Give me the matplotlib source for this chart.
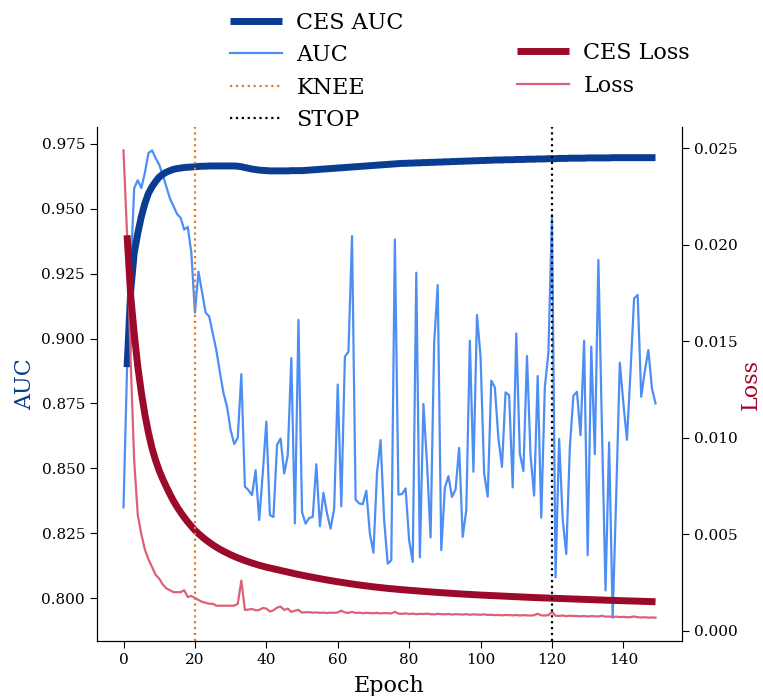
import numpy as np
import matplotlib
matplotlib.use("Agg")
import matplotlib.pyplot as plt

plt.rcParams['font.family'] = ['DejaVu Serif']

epochs = list(range(150))

auc = [0.835, 0.889, 0.926, 0.958, 0.961, 0.958, 0.964, 0.9715, 0.9725, 0.9695,
       0.967, 0.963, 0.9585, 0.954, 0.951, 0.948, 0.9465, 0.942, 0.943, 0.933,
       0.910, 0.9258, 0.918, 0.910, 0.9085, 0.902, 0.8955, 0.887, 0.879, 0.8737,
       0.8648, 0.8594, 0.8618, 0.8863, 0.843, 0.8416, 0.8397, 0.8493, 0.8301, 0.848,
       0.868, 0.832, 0.8313, 0.859, 0.8615, 0.848, 0.855, 0.8925, 0.8288, 0.9072,
       0.8331, 0.8287, 0.8309, 0.8313, 0.8516, 0.8277, 0.8406, 0.8326, 0.8268, 0.8345,
       0.8823, 0.8354, 0.893, 0.8949, 0.9395, 0.838, 0.8365, 0.8362, 0.8414, 0.8249,
       0.8175, 0.8483, 0.8609, 0.830, 0.8133, 0.8146, 0.9382, 0.8399, 0.8401, 0.8423,
       0.8223, 0.814, 0.9254, 0.8157, 0.8748, 0.852, 0.8234, 0.8982, 0.9206, 0.8185,
       0.8425, 0.847, 0.839, 0.8419, 0.8579, 0.8236, 0.8339, 0.8992, 0.8487, 0.9091,
       0.893, 0.8481, 0.8391, 0.8838, 0.8812, 0.8615, 0.8506, 0.8793, 0.8782, 0.8427,
       0.902, 0.8557, 0.849, 0.8933, 0.855, 0.8395, 0.8856, 0.831, 0.8813, 0.8945,
       0.9476, 0.808, 0.8614, 0.8304, 0.817, 0.858, 0.878, 0.8795, 0.8628, 0.8992,
       0.8166, 0.8969, 0.8555, 0.9303, 0.865, 0.803, 0.860, 0.7925, 0.840, 0.8907,
       0.875, 0.861, 0.8875, 0.9155, 0.9168, 0.8776, 0.8875, 0.8956, 0.8808, 0.875]

ces_epochs = list(range(1, 150))
ces_auc = [0.889, 0.918, 0.933, 0.9406, 0.947, 0.9521, 0.956, 0.9585, 0.9605, 0.9622,
           0.9633, 0.9641, 0.9647, 0.9652, 0.9655, 0.9657, 0.9659, 0.966, 0.9661, 0.9662,
           0.9663, 0.9664, 0.9664, 0.9665, 0.9665, 0.9665, 0.9665, 0.9665, 0.9665, 0.9665,
           0.9665, 0.9664,
           0.9662, 0.9659, 0.9656, 0.9653, 0.9651, 0.9649, 0.9648, 0.9647, 0.9646, 0.9646,
           0.9646, 0.9646, 0.9646, 0.9646, 0.9647, 0.9647, 0.9647, 0.9647, 0.9648,
           0.9649, 0.965, 0.9651, 0.9652, 0.9653, 0.9654, 0.9655, 0.9656, 0.9657, 0.9658,
           0.9659, 0.966, 0.9661,
           0.9662, 0.9663, 0.9664, 0.9665, 0.9666, 0.9667, 0.9668, 0.9669, 0.967, 0.9671,
           0.9672, 0.9673, 0.9674,
           0.9675, 0.9675, 0.9676, 0.9676, 0.9677, 0.9677, 0.9678, 0.9678, 0.9679, 0.9679,
           0.968, 0.968, 0.9681, 0.9681, 0.9682, 0.9682, 0.9683, 0.9683, 0.9684, 0.9684,
           0.9685, 0.9685, 0.9686, 0.9686, 0.9687,
           0.9687, 0.9688, 0.9688, 0.9688, 0.9689, 0.9689, 0.9689, 0.969, 0.969, 0.969,
           0.9691, 0.9691, 0.9691, 0.9692, 0.9692, 0.9692, 0.9693, 0.9693, 0.9693, 0.9694,
           0.9694, 0.9694, 0.9695, 0.9695, 0.9695,
           0.9695, 0.9695, 0.9696, 0.9696, 0.9696, 0.9696, 0.9696, 0.9696, 0.9696, 0.9697,
           0.9697, 0.9697, 0.9697, 0.9697, 0.9697, 0.9697, 0.9697, 0.9697, 0.9697, 0.9697,
           0.9697, 0.9697]

loss = [0.0249, 0.0205, 0.0140, 0.0088, 0.0060, 0.0050, 0.0042, 0.0037, 0.0033, 0.0029,
        0.0027, 0.0024, 0.0022, 0.0021, 0.0020, 0.0020, 0.0020, 0.0021, 0.00175, 0.0018,
        0.0017, 0.0016, 0.0015, 0.00145, 0.0014, 0.0014, 0.0013, 0.0013, 0.0013, 0.0013,
        0.0013, 0.0013, 0.0014, 0.0026,
        0.00108, 0.00110, 0.00113, 0.00106, 0.00108, 0.00118, 0.00115, 0.00100, 0.00106, 0.00120,
        0.00125, 0.00108, 0.00115, 0.00098, 0.00104, 0.00108, 0.00094, 0.00096,
        0.00096, 0.00094, 0.00095, 0.00093, 0.00094, 0.00092, 0.00094, 0.00093, 0.00095, 0.00104,
        0.00095, 0.00093, 0.00098, 0.00092, 0.00094, 0.00091, 0.00093, 0.00092, 0.00091, 0.00093,
        0.00090, 0.00092, 0.00091, 0.00090, 0.00098, 0.00089,
        0.00088, 0.00090, 0.00087, 0.00089, 0.00086, 0.00088, 0.00087, 0.00089, 0.00086, 0.00085,
        0.00088, 0.00086, 0.00085, 0.00087, 0.00084, 0.00086, 0.00085, 0.00084, 0.00086, 0.00083,
        0.00085, 0.00084, 0.00083, 0.00085, 0.00082,
        0.00083, 0.00081, 0.00082, 0.00080, 0.00082, 0.00081, 0.00080, 0.00082, 0.00079, 0.00081,
        0.00080, 0.00079, 0.00081, 0.00088, 0.00080, 0.00079, 0.00081, 0.00098, 0.00078, 0.00077,
        0.00079, 0.00076, 0.00078, 0.00077,
        0.00076, 0.00075, 0.00077, 0.00074, 0.00076, 0.00075, 0.00074, 0.00078, 0.00073, 0.00074,
        0.00072, 0.00073, 0.00071, 0.00072, 0.00070, 0.00071, 0.00074, 0.00070, 0.00069, 0.00070,
        0.00068, 0.00069, 0.00068]

ces_loss = [0.02050, 0.01740, 0.01540, 0.01370, 0.01235, 0.01120, 0.01025, 0.00945, 0.00883, 0.00830,
            0.00786, 0.00746, 0.00708, 0.00673, 0.00642, 0.00614, 0.00588, 0.00564, 0.00542, 0.00521,
            0.005035, 0.004873, 0.004723, 0.004584, 0.004455, 0.004336, 0.004226, 0.004124, 0.004029, 0.003940,
            0.003857, 0.003779, 0.003706, 0.003637, 0.003572, 0.003511, 0.003453, 0.003398, 0.003346, 0.003297,
            0.003254, 0.003210, 0.003166, 0.003122, 0.003080, 0.003038, 0.002998, 0.002958, 0.002918, 0.002880,
            0.002842, 0.002806, 0.002770, 0.002734, 0.002700, 0.002666, 0.002633, 0.002601, 0.002570, 0.002539,
            0.002510, 0.002481, 0.002452, 0.002425, 0.002398, 0.002373, 0.002348, 0.002324, 0.002301, 0.002278,
            0.002257, 0.002236, 0.002216, 0.002197, 0.002179, 0.002162, 0.002146, 0.002130, 0.002114, 0.002099,
            0.002084, 0.002069, 0.002055, 0.002040, 0.002027, 0.002013, 0.002000, 0.001987, 0.001974, 0.001961,
            0.001949, 0.001937, 0.001926, 0.001914, 0.001903, 0.001892, 0.001882, 0.001872, 0.001862, 0.001852,
            0.001843, 0.001834, 0.001824, 0.001815, 0.001806, 0.001797, 0.001789, 0.001780, 0.001771, 0.001763,
            0.001755, 0.001746, 0.001738, 0.001730, 0.001722, 0.001715, 0.001707, 0.001699, 0.001692, 0.001685,
            0.001677, 0.001670, 0.001663, 0.001656, 0.001650, 0.001643, 0.001636, 0.001630, 0.001623, 0.001617,
            0.001611, 0.001604, 0.001598, 0.001592, 0.001586, 0.001580, 0.001574, 0.001568, 0.001562, 0.001556,
            0.001550, 0.001544, 0.001538, 0.001532, 0.001527, 0.001521, 0.001516, 0.001510, 0.001505]

knee_epoch = 20
stop_epoch = 120

c_ces_auc = '#0a3d91'
c_auc = '#4d8ef5'
c_knee = '#e07b28'
c_ces_loss = '#9b0a2a'
c_loss = '#dc6079'

fig = plt.figure(figsize=(7.63, 6.96), dpi=100)
ax = fig.add_axes([0.127, 0.079, 0.767, 0.7385])
ax2 = ax.twinx()

l_auc, = ax.plot(epochs, auc, color=c_auc, lw=1.6, label='AUC')
l_ces_auc, = ax.plot(ces_epochs, ces_auc, color=c_ces_auc, lw=5, label='CES AUC',
                     solid_capstyle='butt')

l_loss, = ax2.plot(epochs, loss, color=c_loss, lw=1.6, label='Loss')
l_ces_loss, = ax2.plot(ces_epochs, ces_loss, color=c_ces_loss, lw=5, label='CES Loss',
                       solid_capstyle='butt')
l_knee = ax2.axvline(knee_epoch, color=c_knee, ls=':', lw=1.6, label='KNEE')
l_stop = ax2.axvline(stop_epoch, color='black', ls=':', lw=1.6, label='STOP')

ax.set_xticks([0, 20, 40, 60, 80, 100, 120, 140])
ax.set_yticks([0.800, 0.825, 0.850, 0.875, 0.900, 0.925, 0.950, 0.975])
ax2.set_yticks([0.000, 0.005, 0.010, 0.015, 0.020, 0.025])
ax.set_yticklabels(['%.3f' % v for v in ax.get_yticks()])
ax2.set_yticklabels(['%.3f' % v for v in ax2.get_yticks()])

for a in (ax, ax2):
    a.spines['top'].set_visible(False)
    a.tick_params(labelsize=11, length=5)

ax.set_xlabel('Epoch', fontsize=16, labelpad=6)
ax.set_ylabel('AUC', fontsize=16, color=c_ces_auc)
ax2.set_ylabel('Loss', fontsize=16, color=c_ces_loss, labelpad=1.5)

leg1 = fig.legend(handles=[l_ces_auc, l_auc, l_knee, l_stop], loc='upper left',
                  bbox_to_anchor=(0.275, 1.012), frameon=False, fontsize=16,
                  handlelength=2.35, handletextpad=0.65, labelspacing=0.47)
leg2 = fig.legend(handles=[l_ces_loss, l_loss], loc='upper left',
                  bbox_to_anchor=(0.651, 0.968), frameon=False, fontsize=16,
                  handlelength=2.35, handletextpad=0.65, labelspacing=0.47)

fig.savefig('out.png', dpi=100)
